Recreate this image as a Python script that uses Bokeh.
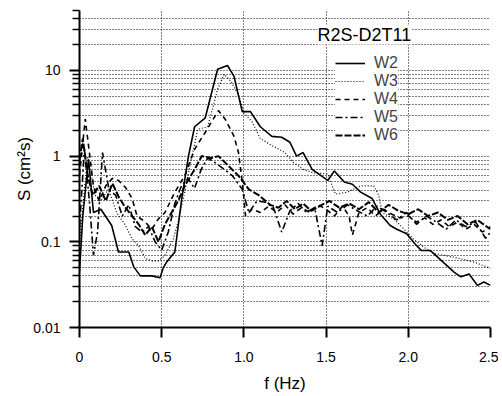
from bokeh.plotting import figure
from bokeh.models import FixedTicker, CustomJSTickFormatter, Legend, LegendItem, Label
from bokeh.embed import file_html
from bokeh.resources import INLINE

# ---- data ----
W2_f = [0.00, 0.02, 0.055, 0.085, 0.13, 0.196, 0.237, 0.30, 0.33, 0.37, 0.44, 0.49, 0.51, 0.53, 0.58, 0.62,
        0.663, 0.70, 0.765, 0.84, 0.90, 0.94, 0.99, 1.04, 1.10, 1.17, 1.23, 1.28, 1.32, 1.36, 1.415, 1.51,
        1.55, 1.61, 1.66, 1.71, 1.78, 1.83, 1.89, 1.93, 1.99, 2.04, 2.08, 2.135, 2.22, 2.28, 2.32, 2.37,
        2.42, 2.46, 2.50]
W2_S = [0.045, 0.2, 0.92, 0.22, 0.24, 0.155, 0.076, 0.076, 0.051, 0.04, 0.04, 0.038, 0.05, 0.058, 0.076, 0.3,
        1.0, 2.2, 2.8, 10.3, 11.4, 8.5, 3.3, 3.3, 2.2, 1.7, 1.66, 1.45, 1.0, 1.1, 0.7, 0.52,
        0.67, 0.5, 0.47, 0.38, 0.32, 0.21, 0.155, 0.14, 0.124, 0.095, 0.079, 0.079, 0.056, 0.044, 0.039, 0.042,
        0.031, 0.034, 0.031]

W3_f = [0.00, 0.05, 0.095, 0.13, 0.176, 0.226, 0.28, 0.32, 0.36, 0.40, 0.44, 0.48, 0.52, 0.57, 0.60, 0.64,
        0.68, 0.72, 0.78, 0.84, 0.88, 0.92, 0.97, 1.00, 1.05, 1.10, 1.18, 1.25, 1.30, 1.36, 1.42, 1.51,
        1.557, 1.63, 1.71, 1.79, 1.82, 1.84, 1.91, 1.96, 2.03, 2.10, 2.155, 2.28, 2.40, 2.50]
W3_S = [0.1, 1.0, 0.35, 0.3, 0.41, 0.22, 0.155, 0.108, 0.09, 0.064, 0.06, 0.06, 0.069, 0.108, 0.17, 0.38,
        0.92, 2.06, 2.2, 6.0, 9.0, 7.5, 5.0, 3.2, 2.5, 1.6, 1.3, 1.1, 0.85, 0.7, 0.64, 0.62,
        0.36, 0.38, 0.45, 0.45, 0.35, 0.22, 0.185, 0.15, 0.108, 0.085, 0.073, 0.066, 0.058, 0.049]

W4_f = [0.00, 0.035, 0.085, 0.12, 0.16, 0.20, 0.237, 0.28, 0.32, 0.35, 0.40, 0.44, 0.48, 0.52, 0.58,
        0.64, 0.70, 0.765, 0.845, 0.886, 0.94, 0.967, 0.99, 1.01, 1.05, 1.10, 1.15, 1.20, 1.25, 1.30,
        1.35, 1.40, 1.45, 1.50, 1.55, 1.60, 1.64, 1.66, 1.70, 1.75, 1.80, 1.85, 1.90, 1.95, 2.00,
        2.05, 2.10, 2.15, 2.20, 2.25, 2.30, 2.35, 2.40, 2.45, 2.50]
W4_S = [0.6, 2.7, 0.45, 0.3, 0.45, 0.55, 0.52, 0.43, 0.32, 0.2, 0.17, 0.14, 0.185, 0.22, 0.38,
        0.59, 1.2, 1.9, 3.4, 2.7, 1.7, 1.1, 0.5, 0.2, 0.24, 0.22, 0.26, 0.22, 0.27, 0.21,
        0.25, 0.22, 0.27, 0.24, 0.2, 0.26, 0.2, 0.12, 0.22, 0.25, 0.2, 0.24, 0.21, 0.19, 0.2,
        0.17, 0.19, 0.16, 0.18, 0.15, 0.17, 0.14, 0.16, 0.13, 0.15]

W5_f = [0.00, 0.03, 0.06, 0.085, 0.11, 0.14, 0.18, 0.22, 0.26, 0.30, 0.34, 0.38, 0.42, 0.46, 0.50,
        0.54, 0.58, 0.62, 0.66, 0.70, 0.74, 0.78, 0.82, 0.86, 0.93, 0.99, 1.03, 1.08, 1.13, 1.18,
        1.23, 1.28, 1.33, 1.38, 1.43, 1.476, 1.51, 1.57, 1.63, 1.69, 1.75, 1.81, 1.87, 1.93, 1.99,
        2.05, 2.11, 2.17, 2.23, 2.29, 2.35, 2.41, 2.47, 2.50]
W5_S = [0.15, 1.2, 0.3, 0.07, 0.13, 1.1, 0.4, 0.35, 0.2, 0.27, 0.15, 0.13, 0.15, 0.1, 0.08,
        0.13, 0.28, 0.45, 0.55, 0.42, 0.7, 0.95, 0.85, 0.75, 0.59, 0.41, 0.22, 0.3, 0.29, 0.25,
        0.13, 0.23, 0.28, 0.22, 0.25, 0.09, 0.26, 0.22, 0.27, 0.23, 0.2, 0.26, 0.22, 0.18, 0.22,
        0.16, 0.2, 0.17, 0.14, 0.18, 0.15, 0.17, 0.11, 0.13]

W6_f = [0.00, 0.02, 0.05, 0.08, 0.12, 0.16, 0.20, 0.24, 0.28, 0.32, 0.36, 0.40, 0.44, 0.48, 0.52,
        0.56, 0.60, 0.64, 0.70, 0.744, 0.80, 0.845, 0.90, 0.967, 1.03, 1.09, 1.16, 1.21, 1.26, 1.31,
        1.36, 1.41, 1.46, 1.52, 1.58, 1.64, 1.70, 1.76, 1.82, 1.88, 1.94, 2.00, 2.06, 2.12, 2.18,
        2.24, 2.30, 2.36, 2.42, 2.50]
W6_S = [0.9, 1.6, 0.6, 0.35, 0.45, 0.3, 0.48, 0.33, 0.25, 0.2, 0.16, 0.12, 0.15, 0.1, 0.16,
        0.22, 0.3, 0.45, 0.7, 1.0, 0.95, 1.0, 0.79, 0.59, 0.41, 0.35, 0.27, 0.25, 0.3, 0.24,
        0.28, 0.23, 0.26, 0.3, 0.25, 0.28, 0.24, 0.29, 0.22, 0.27, 0.23, 0.21, 0.24, 0.2, 0.22,
        0.18, 0.2, 0.16, 0.18, 0.14]

x_ticks = [0, 0.5, 1.0, 1.5, 2.0, 2.5]
y_major = [0.01, 0.1, 1, 10]
y_minor = [m * d for d in (0.01, 0.1, 1) for m in range(2, 10)] + [20, 30, 40, 50]
legend_title = "R2S-D2T11"

FONT = "Liberation Sans"

p = figure(width=498, height=395, x_range=(0, 2.5), y_range=(0.01, 50), y_axis_type="log",
           output_backend="svg", toolbar_location=None,
           min_border_left=79, min_border_right=8, min_border_top=10, min_border_bottom=66)
p.outline_line_color = None
p.background_fill_color = "white"

# axes
p.xaxis.ticker = FixedTicker(ticks=x_ticks)
p.xaxis.formatter = CustomJSTickFormatter(code="return tick == 0 ? '0' : tick.toFixed(1);")
p.yaxis.ticker = FixedTicker(ticks=y_major, minor_ticks=y_minor)
p.yaxis.formatter = CustomJSTickFormatter(code="return String(tick);")
for ax in (p.xaxis, p.yaxis):
    ax.axis_line_color = "black"
    ax.axis_line_width = 2
    ax.major_tick_line_color = "black"
    ax.major_tick_line_width = 2
    ax.major_tick_out = 10
    ax.major_tick_in = 0
    ax.minor_tick_line_color = "black"
    ax.minor_tick_line_width = 1.5
    ax.minor_tick_out = 7
    ax.minor_tick_in = 0
    ax.major_label_text_font = FONT
    ax.major_label_text_font_size = "14px"
    ax.major_label_text_color = "black"
    ax.axis_label_text_font = FONT
    ax.axis_label_text_font_size = "17px"
    ax.axis_label_text_font_style = "normal"
    ax.axis_label_text_color = "black"
p.xaxis.major_label_standoff = 14
p.yaxis.major_label_standoff = 9
p.xaxis.axis_label = "f (Hz)"
p.yaxis.axis_label = "S (cm²s)"
p.xaxis.axis_label_standoff = 9
p.yaxis.axis_label_standoff = -4

# grids: dotted
p.xgrid.grid_line_color = "black"
p.xgrid.grid_line_dash = "1 2"
p.xgrid.grid_line_width = 1
p.ygrid.grid_line_color = "black"
p.ygrid.grid_line_dash = "1 2"
p.ygrid.grid_line_width = 1
p.ygrid.minor_grid_line_color = "black"
p.ygrid.minor_grid_line_dash = "1 2"
p.ygrid.minor_grid_line_width = 1

r2 = p.line(W2_f, W2_S, line_color="black", line_width=1.6)
r3 = p.line(W3_f, W3_S, line_color="black", line_width=1.2, line_dash="1 2")
r4 = p.line(W4_f, W4_S, line_color="black", line_width=1.6, line_dash="5 4")
r5 = p.line(W5_f, W5_S, line_color="black", line_width=1.6, line_dash="7 3 2 3")
r6 = p.line(W6_f, W6_S, line_color="black", line_width=2, line_dash="7 2")

legend = Legend(items=[LegendItem(label="W2", renderers=[r2]),
                       LegendItem(label="W3", renderers=[r3]),
                       LegendItem(label="W4", renderers=[r4]),
                       LegendItem(label="W5", renderers=[r5]),
                       LegendItem(label="W6", renderers=[r6])],
                location=(256, 183))
legend.label_text_font = FONT
legend.label_text_font_size = "16px"
legend.label_standoff = 9
legend.glyph_width = 30
legend.glyph_height = 16
legend.label_height = 16
legend.spacing = 0
legend.padding = 4
legend.margin = 0
legend.border_line_color = None
legend.background_fill_color = "white"
legend.background_fill_alpha = 1
p.add_layout(legend, "center")

title = Label(x=238, y=293, x_units="screen", y_units="screen", text=legend_title,
              text_font=FONT, text_font_size="18px", text_color="black",
              text_baseline="middle", text_align="left",
              background_fill_color="white", background_fill_alpha=1)
p.add_layout(title)

open("out.html", "w").write(file_html(p, INLINE))
